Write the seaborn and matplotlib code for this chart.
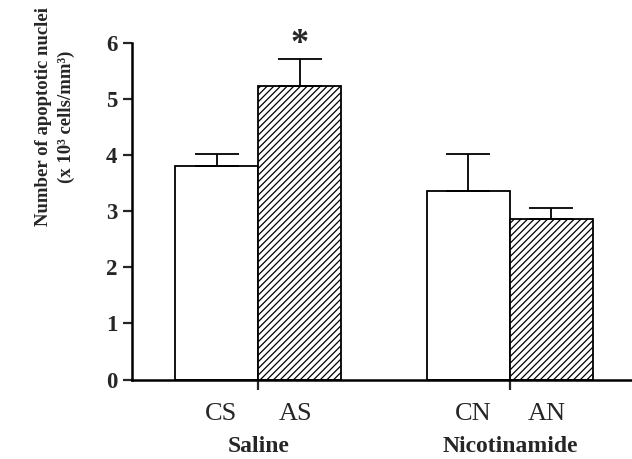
import pandas as pd
import matplotlib
matplotlib.use("Agg")
import matplotlib.pyplot as plt
import seaborn as sns

# Data
groups = ["Saline", "Saline", "Nicotinamide", "Nicotinamide"]
conditions = ["C", "A", "C", "A"]
bar_labels = ["CS", "AS", "CN", "AN"]
means = [3.81, 5.22, 3.35, 2.86]
sem = [0.20, 0.49, 0.67, 0.20]
group_order = ["Saline", "Nicotinamide"]

df = pd.DataFrame({"group": groups, "condition": conditions, "value": means})

sns.set_style("ticks")
plt.rcParams["font.family"] = ["Liberation Serif", "DejaVu Serif"]
plt.rcParams["hatch.linewidth"] = 0.9

fig = plt.figure(figsize=(6.32, 4.59), dpi=100)
ax = fig.add_axes([0.2084, 0.1732, 0.7916, 0.7338])

sns.barplot(data=df, x="group", y="value", hue="condition", order=group_order,
            hue_order=["C", "A"], palette=["white", "white"], edgecolor="black",
            linewidth=1.3, width=0.66, errorbar=None, legend=False, ax=ax)

for patch in ax.containers[1]:
    patch.set_hatch("/////")

# error bars (upper only), placed at the bar centers
bars = sorted([p for c in ax.containers for p in c], key=lambda p: p.get_x())
for patch, m, e in zip(bars, means, sem):
    xc = patch.get_x() + patch.get_width() / 2
    ax.errorbar(xc, m, yerr=[[0], [e]], fmt="none", ecolor="black",
                elinewidth=1.3, capsize=15.5, capthick=1.3, zorder=1)

# significance marker over AS
as_bar = bars[1]
ax.text(as_bar.get_x() + as_bar.get_width() / 2, means[1] + sem[1] - 0.03, "*",
        ha="center", va="bottom", fontsize=26, fontweight="bold")

ax.set_xlim(-0.503, 1.485)
ax.set_ylim(0, 6)
ax.set_yticks(range(0, 7))
ax.set_xticks([0, 1])
ax.set_xticklabels([])
ax.set_xlabel("")
ax.set_ylabel("")
for lab in ax.get_yticklabels():
    lab.set_fontweight("bold")
    lab.set_fontsize(16.5)
ax.tick_params(axis="y", length=6.5, width=1.6, pad=4)
ax.tick_params(axis="x", length=7, width=1.6)

for side in ["top", "right"]:
    ax.spines[side].set_visible(False)
for side in ["left", "bottom"]:
    ax.spines[side].set_linewidth(1.8)
    ax.spines[side].set_color("black")

# bar labels under each bar and group labels beneath
trans = ax.get_xaxis_transform()
for patch, lab in zip(bars, bar_labels):
    xc = patch.get_x() + patch.get_width() / 2
    shift = -0.018 if xc < round(xc) else 0.018
    ax.text(xc - shift, -0.07, lab, transform=trans, ha="center", va="top",
            fontsize=19)
for i, g in enumerate(group_order):
    ax.text(i, -0.215, g, transform=trans, ha="center", va="baseline",
            fontsize=17, fontweight="bold")

fig.text(55 / 632, 1 - 117 / 459, "Number of apoptotic nuclei\n(x 10³ cells/mm³)",
         rotation=90, ha="center", va="center", multialignment="center",
         fontsize=13.5, fontweight="bold", linespacing=1.4)

fig.savefig("out.png", dpi=100)
